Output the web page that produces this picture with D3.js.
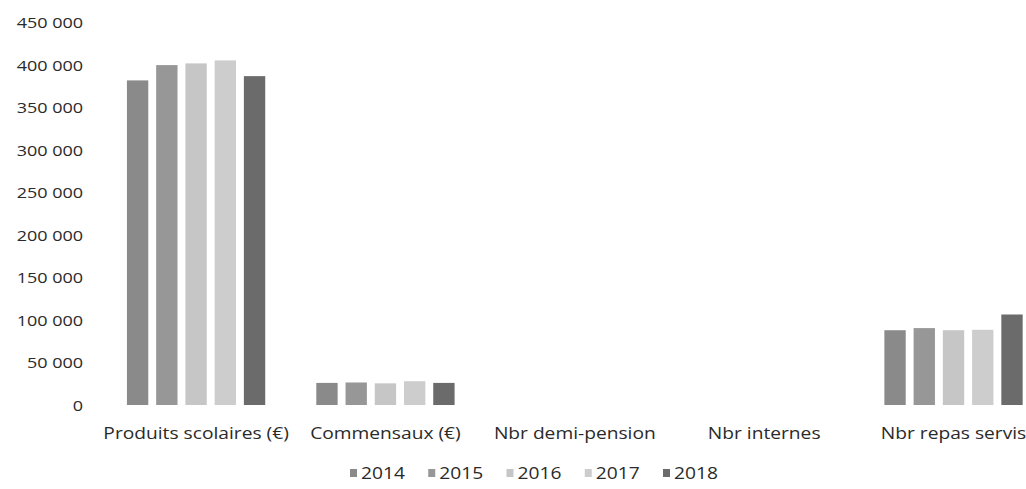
<!DOCTYPE html>
<html>
<head>
<meta charset="utf-8">
<script src="https://cdn.jsdelivr.net/npm/d3@7"></script>
<style>
  html, body { margin: 0; padding: 0; background: #fff; }
  svg { display: block; }
  text { font-family: "Open Sans", sans-serif; fill: #2a2a2a; }
</style>
</head>
<body>
<svg id="chart" width="1026" height="489"></svg>
<script>
// Categories on the x axis
const categories = ["Produits scolaires (€)", "Commensaux (€)", "Nbr demi-pension", "Nbr internes", "Nbr repas servis"];
// Series (one per year)
const years = ["2014", "2015", "2016", "2017", "2018"];
const values2014 = [382000, 26000, 0, 0, 88000];
const values2015 = [400000, 26500, 0, 0, 90500];
const values2016 = [402000, 25500, 0, 0, 88000];
const values2017 = [405500, 28000, 0, 0, 88500];
const values2018 = [387000, 26000, 0, 0, 106500];
const seriesValues = [values2014, values2015, values2016, values2017, values2018];
const yearColors = ["#8a8a8a", "#979797", "#c6c6c6", "#cdcdcd", "#6b6b6b"];
// Y axis ticks
const yTicks = [0, 50000, 100000, 150000, 200000, 250000, 300000, 350000, 400000, 450000];

const svg = d3.select("#chart");
const stretch = 1.2; // horizontal glyph widening for all labels

const y = d3.scaleLinear().domain([0, 450000]).range([405, 22.6]);

const x0 = d3.scaleBand()
  .domain(categories)
  .range([101.4, 1048.2])
  .paddingInner(0.228)
  .paddingOuter(0.114);

const x1 = d3.scaleBand()
  .domain(years)
  .range([0, x0.bandwidth()])
  .paddingInner(0.27)
  .paddingOuter(0.135);

const color = d3.scaleOrdinal().domain(years).range(yearColors);

const fmt = v => d3.format(",")(v).replace(/,/g, " ");

// Y axis labels (no axis line)
const yAxis = d3.axisLeft(y).tickValues(yTicks).tickFormat(fmt).tickSize(0).tickPadding(0);
const gy = svg.append("g").attr("transform", "translate(83,0)").call(yAxis);
gy.select(".domain").remove();
gy.selectAll(".tick text")
  .attr("x", null).attr("dy", "0.35em")
  .style("font-size", "15px")
  .style("font-family", "'Open Sans', sans-serif")
  .attr("fill", "#2a2a2a")
  .attr("transform", `scale(${stretch},1)`);

// Bars
const rows = categories.map((c, i) => ({ cat: c, vals: years.map((yr, j) => ({ year: yr, value: seriesValues[j][i] })) }));
const groups = svg.append("g").selectAll("g")
  .data(rows).join("g")
  .attr("transform", d => `translate(${x0(d.cat)},0)`);
groups.selectAll("rect")
  .data(d => d.vals.filter(v => v.value > 0)).join("rect")
  .attr("x", d => x1(d.year))
  .attr("width", x1.bandwidth())
  .attr("y", d => y(d.value))
  .attr("height", d => y(0) - y(d.value))
  .attr("fill", d => color(d.year));

// Category axis labels (no axis line)
const xAxis = d3.axisBottom(x0).tickSize(0).tickPadding(0);
const gx = svg.append("g").attr("transform", "translate(0,439)").call(xAxis);
gx.select(".domain").remove();
gx.selectAll(".tick text")
  .attr("y", 0).attr("dy", 0)
  .style("font-size", "16px")
  .style("font-family", "'Open Sans', sans-serif")
  .attr("fill", "#2a2a2a")
  .attr("transform", `scale(${stretch},1)`);

// Legend
const lx = d3.scaleBand().domain(years).range([350, 350 + 5 * 78.25]);
const leg = svg.append("g").selectAll("g")
  .data(years).join("g")
  .attr("transform", d => `translate(${lx(d)},473)`);
leg.append("rect")
  .attr("x", 0).attr("y", -4)
  .attr("width", 7).attr("height", 8)
  .attr("fill", d => color(d));
leg.append("text")
  .attr("x", 0).attr("y", 5.5)
  .attr("transform", `translate(11,0) scale(${stretch},1)`)
  .style("font-size", "16px")
  .text(d => d);
</script>
</body>
</html>
